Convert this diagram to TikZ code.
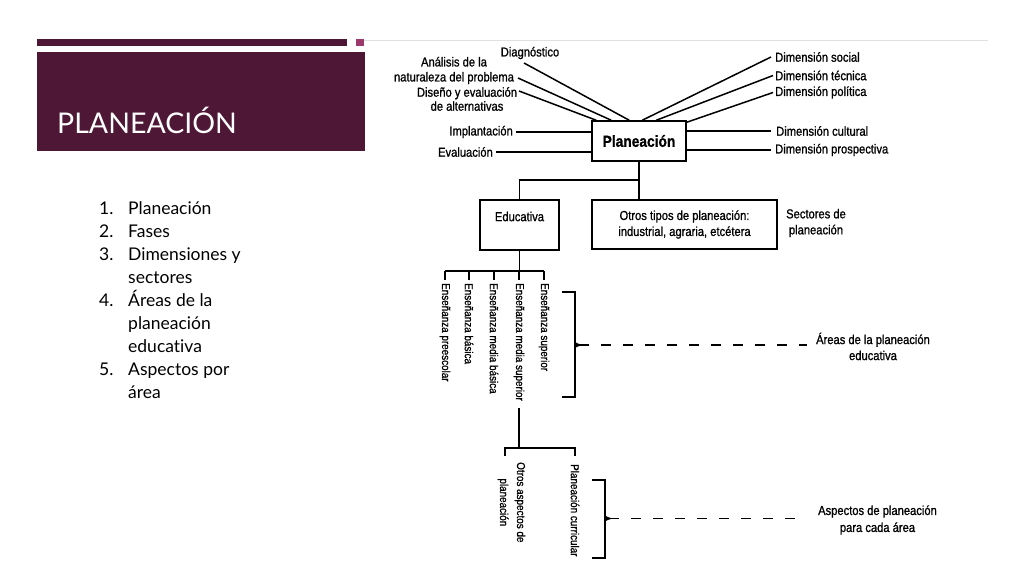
\documentclass[tikz,border=0pt]{standalone}
\usepackage{fontspec}
\setmainfont{Lato}[Ligatures=CommonOff]
\newfontfamily\dfont{Liberation Sans}[FakeStretch=0.86,FakeBold=1]
\usetikzlibrary{arrows.meta,calc}
\definecolor{plum}{HTML}{4F1736}
\definecolor{pinkq}{HTML}{9B3A6A}
\begin{document}
\begin{tikzpicture}[x=1pt,y=-1pt,
  lab/.style={font=\dfont\fontsize{13}{15}\selectfont, inner sep=0pt, align=center},
  vlab/.style={font=\dfont\fontsize{11.5}{17}\selectfont, inner sep=0pt, rotate=-90, anchor=west, align=center},
  conn/.style={line width=1.5pt},
  boxst/.style={draw, line width=1.5pt, inner sep=0pt},
  dashln/.style={line width=1.5pt, dash pattern=on 10pt off 12pt},
  listnum/.style={font=\fontsize{17.5}{20}\selectfont, inner sep=0pt, anchor=base west},
  listtxt/.style={font=\fontsize{17.5}{20}\selectfont, inner sep=0pt, anchor=base west}
]
\useasboundingbox (0,0) rectangle (1024,576);
\fill[white] (0,0) rectangle (1024,576);

% header decoration
\fill[plum] (37,39) rectangle (347,46);
\fill[pinkq] (356,39) rectangle (364,46);
\draw[black!12, line width=0.8pt] (364,40) -- (988,40);
\fill[plum] (37,52) rectangle (365,151);
\node[anchor=base west, text=white, font=\fontsize{28.5}{32}\selectfont, inner sep=0pt] (title) at (57,133) {PLANEACIÓN};

% list
\node[listnum] (n1) at (99,214) {1.};
\node[listtxt] (t1) at (128,214) {Planeación};
\node[listnum] (n2) at (99,237) {2.};
\node[listtxt] (t2) at (128,237) {Fases};
\node[listnum] (n3) at (99,260) {3.};
\node[listtxt] (t3a) at (128,260) {Dimensiones y};
\node[listtxt] (t3b) at (128,283) {sectores};
\node[listnum] (n4) at (99,306) {4.};
\node[listtxt] (t4a) at (128,306) {Áreas de la};
\node[listtxt] (t4b) at (128,329) {planeación};
\node[listtxt] (t4c) at (128,352) {educativa};
\node[listnum] (n5) at (99,375) {5.};
\node[listtxt] (t5a) at (128,375) {Aspectos por};
\node[listtxt] (t5b) at (128,398) {área};

% central box
\node[boxst, minimum width=94pt, minimum height=40pt, font=\dfont\bfseries\fontsize{16}{18}\selectfont] (plan) at (639,141) {Planeación};

% left labels
\node[lab] (diag) at (530,53) {Diagnóstico};
\node[lab] (anal) at (454,70.5) {Análisis de la\\naturaleza del problema};
\node[lab, font=\dfont\fontsize{13}{14}\selectfont] (dise) at (467,99) {Diseño y evaluación\\de alternativas};
\node[lab, anchor=east] (impl) at (513,132) {Implantación};
\node[lab, anchor=east] (eval) at (493,152) {Evaluación};

\coordinate (pDiag) at (524,63);
\coordinate (pAnal) at (518,78);
\coordinate (pDise) at (519,91);
\draw[conn] (pDiag) -- ($(plan.north west)+(38,0)$);
\draw[conn] (pAnal) -- ($(plan.north west)+(20,0)$);
\draw[conn] (pDise) -- ($(plan.north west)+(5,0)$);
\draw[conn] ($(impl.east)+(3,0)$) -- (plan.west |- impl.east);
\draw[conn] ($(eval.east)+(3,0)$) -- (plan.west |- eval.east);

% right labels
\node[lab, anchor=west] (dsoc) at (775,57) {Dimensión social};
\node[lab, anchor=west] (dtec) at (775,75.5) {Dimensión técnica};
\node[lab, anchor=west] (dpol) at (775,92.5) {Dimensión política};
\node[lab, anchor=west] (dcul) at (776,131) {Dimensión cultural};
\node[lab, anchor=west] (dpro) at (775,150) {Dimensión prospectiva};

\draw[conn] ($(dsoc.west)+(-4,0)$) -- ($(plan.north west)+(51,0)$);
\draw[conn] ($(dtec.west)+(-2,0)$) -- ($(plan.north west)+(65,0)$);
\draw[conn] ($(dpol.west)+(-2,0)$) -- ($(plan.north east)+(0,2)$);
\draw[conn] (plan.east |- dcul.west) -- ($(dcul.west)+(-5,0)$);
\draw[conn] (plan.east |- dpro.west) -- ($(dpro.west)+(-4,0)$);

% sectors
\node[boxst, minimum width=79pt, minimum height=50pt] (educ) at (519.5,225) {};
\node[lab] (educt) at (519.5,216.5) {Educativa};
\node[boxst, minimum width=185pt, minimum height=49pt, font=\dfont\fontsize{13}{16}\selectfont, align=center] (otros) at (684.5,224.5) {Otros tipos de planeación:\\industrial, agraria, etcétera};
\node[lab, font=\dfont\fontsize{13}{16}\selectfont] (sect) at (816,223) {Sectores de\\planeación};

\coordinate (j1) at (639,180);
\draw[conn] (plan.south) -- (plan.south |- otros.north);
\draw[conn] (j1) -| (educ.north);

% areas
\node[vlab] (e1) at (445,283) {Enseñanza preescolar};
\node[vlab] (e2) at (469,283) {Enseñanza básica};
\node[vlab] (e3) at (494,283) {Enseñanza media básica};
\node[vlab] (e4) at (519,283) {Enseñanza media superior};
\node[vlab] (e5) at (544,283) {Enseñanza superior};
\coordinate (j2) at (519,271);
\draw[conn] (educ.south) -- (educ.south |- j2);
\draw[conn] (e1.west |- j2) -- (e5.west |- j2);
\foreach \n in {e1,e2,e3,e4,e5}{
  \draw[conn, shorten >=3pt] (\n.west |- j2) -- (\n.west);
}

% aspects
\coordinate (j3) at (519,448);
\coordinate (k1) at (505,448);
\coordinate (k2) at (575,448);
\draw[conn, shorten <=7pt] (e4.east) -- (e4.east |- j3);
\node[vlab] (o1) at (511.5,462) {Otros aspectos de\\planeación};
\node[vlab] (o2) at (575,464) {Planeación curricular};
\draw[conn] ($(k1)+(0,8)$) -- (k1) -- (k2) -- ($(k2)+(0,8)$);

% brackets and dashed pointers
\coordinate (b1t) at (575,292);
\coordinate (b1b) at (575,397);
\coordinate (b1m) at (575,345);
\draw[conn] ($(b1t)+(-13,0)$) -- (b1t) -- (b1b) -- ($(b1b)+(-13,0)$);
\node[lab, font=\dfont\fontsize{13}{16}\selectfont] (areas) at (873,346.5) {Áreas de la planeación\\educativa};
\draw[dashln, {Latex[reversed,length=8pt,width=6pt]}-, shorten >=9pt] (b1m) -- (b1m -| areas.west);

\coordinate (b2t) at (605,480);
\coordinate (b2b) at (605,558);
\coordinate (b2m) at (605,518.5);
\draw[conn] ($(b2t)+(-13,0)$) -- (b2t) -- (b2b) -- ($(b2b)+(-13,0)$);
\node[lab, font=\dfont\fontsize{13}{17}\selectfont] (asp) at (877.5,520) {Aspectos de planeación\\para cada área};
\draw[dashln, {Latex[reversed,length=8pt,width=6pt]}-, shorten >=11pt] (b2m) -- (b2m -| asp.west);
\end{tikzpicture}
\end{document}
